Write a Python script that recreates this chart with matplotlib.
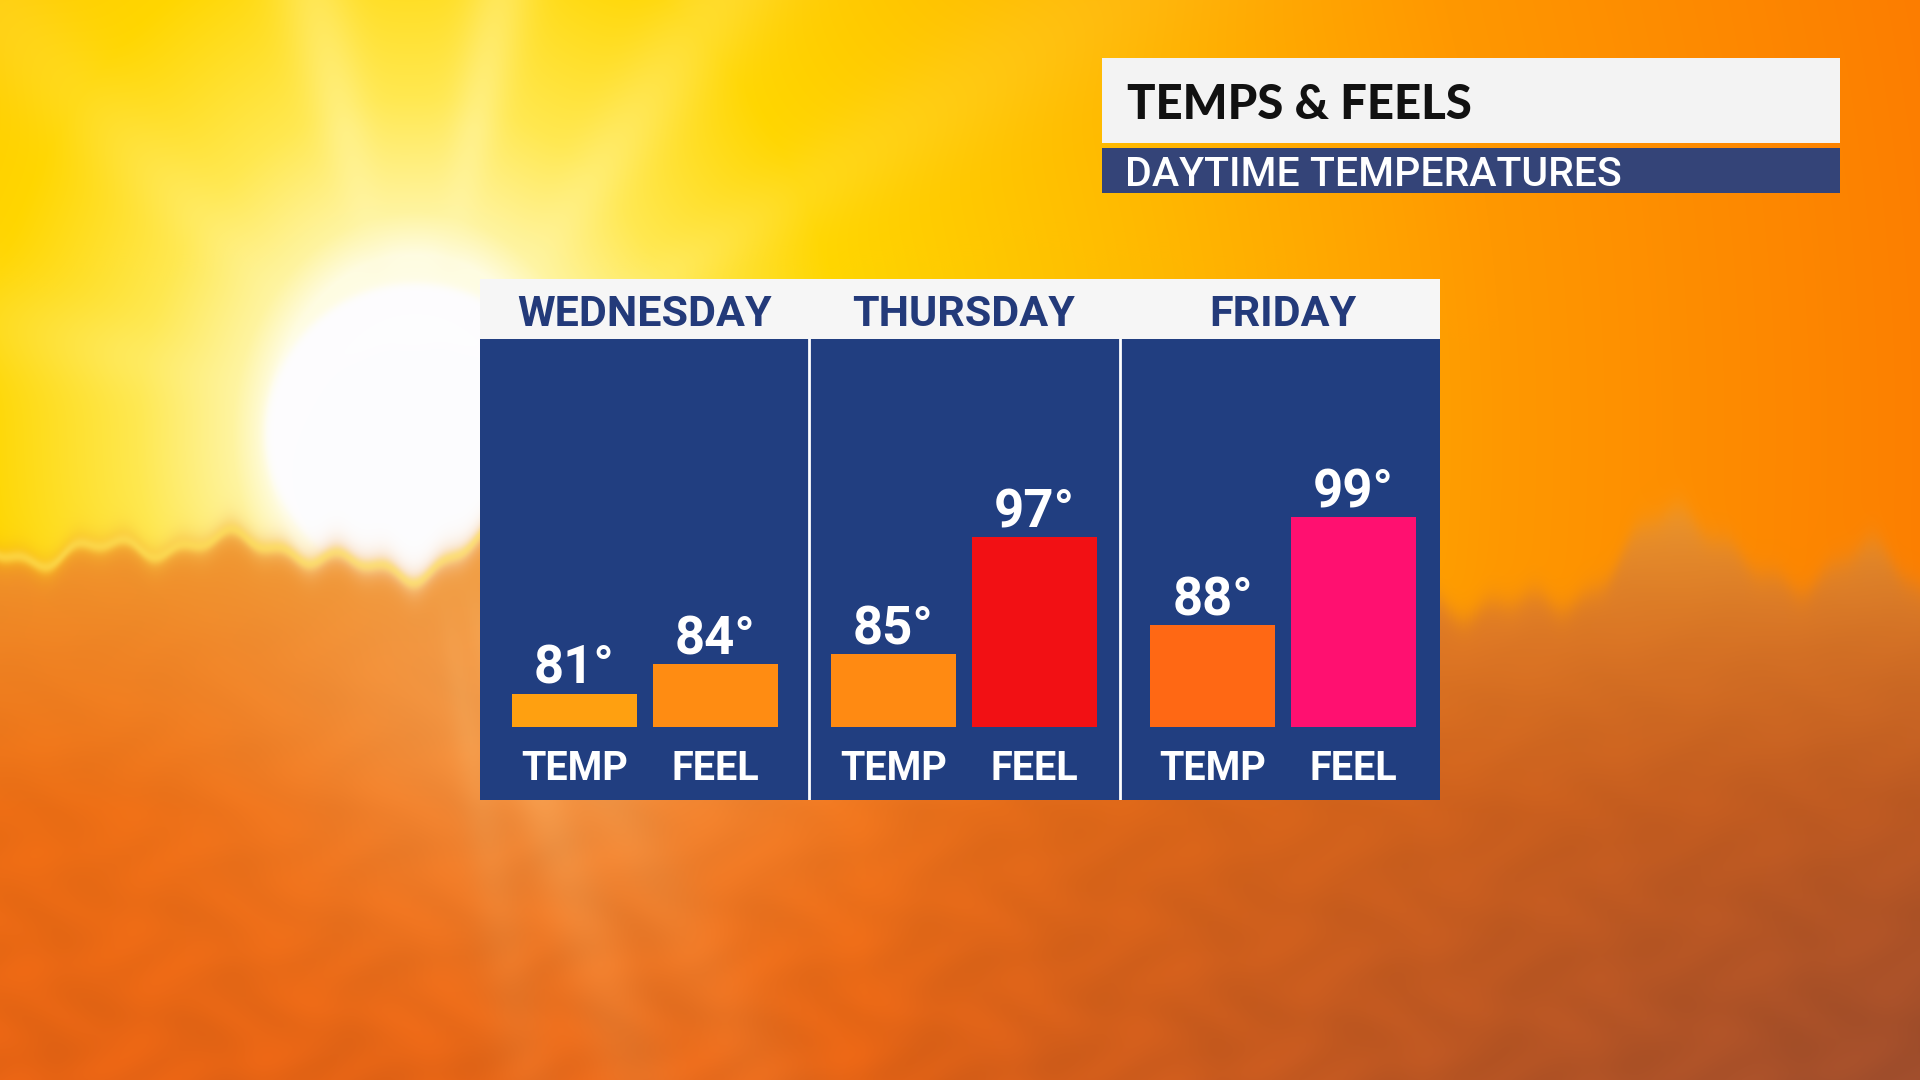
import numpy as np
import matplotlib
matplotlib.use("Agg")
import matplotlib.pyplot as plt
from matplotlib.patches import Rectangle
import matplotlib.transforms as mtransforms

# ---------------- data ----------------
days = ["WEDNESDAY", "THURSDAY", "FRIDAY"]
temps = [81, 85, 88]
feels = [84, 97, 99]
temp_colors = ["#FFA010", "#FF8A12", "#FF6814"]
feel_colors = ["#FF8C12", "#F21014", "#FF1070"]
series_labels = ["TEMP", "FEEL"]
title = "TEMPS & FEELS"
subtitle = "DAYTIME TEMPERATURES"

# ---------------- styling ----------------
W, H = 1920, 1080
FONT = ["Roboto", "DejaVu Sans"]
PANEL_BLUE = "#213E80"
HEADER_WHITE = "#F6F6F6"
DAY_COLOR = "#233A7A"
BAR_FLOOR = 77.6

plt.rcParams["font.family"] = FONT


def lerp_stops(t, stops):
    pos = np.array([s[0] for s in stops], float)
    cols = np.array([s[1] for s in stops], float)
    out = np.empty(t.shape + (3,))
    for c in range(3):
        out[..., c] = np.interp(t, pos, cols[:, c])
    return out


# ---------------- background (decorative sunny sky) ----------------
yy, xx = np.mgrid[0:H, 0:W].astype(float)
sx, sy, sr = 415.0, 433.0, 150.0
dx, dy = xx - sx, yy - sy
d = np.hypot(dx, dy)
d_eff = np.hypot(dx * 1.15, dy * 0.95)
sky = lerp_stops(d_eff, [(0, (255, 255, 252)), (sr + 20, (255, 252, 225)), (sr + 60, (255, 244, 160)),
                         (320, (255, 232, 80)), (500, (255, 214, 0)), (850, (255, 186, 0)),
                         (1250, (255, 152, 0)), (1800, (252, 124, 0))])
theta = np.degrees(np.arctan2(dx, -dy))
rays = np.zeros_like(d)
for a, w, s in [(-75, 7, 0.35), (-45, 6, 0.35), (-13, 5, 0.8), (11, 4.5, 0.85), (35, 6, 0.6),
                (58, 5, 0.3), (152, 4, 0.35), (161, 4, 0.55), (170, 3, 0.35)]:
    diff = (theta - a + 180) % 360 - 180
    rays += s * np.exp(-(diff / w) ** 2)
near = np.clip((d - sr) / 160.0, 0, 1)
rays *= np.exp(-np.maximum(d - sr, 0) / 700) * near
rays = np.clip(rays, 0, 1)[..., None]
ray_col = np.array([255, 248, 185], float)
sky = sky + (ray_col - sky) * rays * 0.65
# crisp sun disk
disk = 1 / (1 + np.exp((d - sr) / 2.5))
sky = sky + (np.array([253, 253, 255], float) - sky) * disk[..., None]

u, v = xx / W, yy / H
cloud = lerp_stops(v, [(0.45, (250, 165, 50)), (0.6, (248, 135, 35)), (0.75, (243, 112, 20)),
                       (1.0, (232, 100, 20))])
dark = (np.clip((u - 0.45) / 0.55, 0, 1) * np.clip((v - 0.45) / 0.55, 0, 1)) ** 0.8
cloud = cloud + (np.array([160, 78, 45], float) - cloud) * dark[..., None]
glow = np.exp(-((xx - 560) / 280) ** 2 - ((yy - 680) / 230) ** 2)
cloud = cloud + (np.array([255, 190, 120], float) - cloud) * 0.5 * glow[..., None]
cloud = cloud + (ray_col - cloud) * rays * 0.35
mottle = (np.sin(xx / 23 + np.sin(yy / 17)) * np.sin(yy / 19 + np.cos(xx / 31))) * 0.5 + 0.5
cloud = cloud * (0.96 + 0.06 * mottle[..., None] * np.clip((v - 0.5) * 2, 0, 1)[..., None])

hz = (540 + 9 * np.sin(xx / 21.0) + 5 * np.sin(xx / 8.3 + 2) + 12 * np.sin(xx / 97.0 + 0.5)
      + 6 * np.sin(xx / 47.0 + 1.3))
hz = hz + 48 * np.exp(-((xx - 400) / 75.0) ** 2)
hz_right = (605 - 95 * np.exp(-((xx - 1680) / 70.0) ** 2) - 55 * np.exp(-((xx - 1860) / 55.0) ** 2)
            + 8 * np.sin(xx / 19.0) + 5 * np.sin(xx / 7.7))
wr = np.clip((xx - 1250) / 200, 0, 1)
hz = hz * (1 - wr) + hz_right * wr
m = 1 / (1 + np.exp(-(yy - hz) / 8.0))
m = m[..., None]
img = sky * (1 - m) + cloud * m
rim = np.exp(-((yy - hz) / 6.0) ** 2) * np.clip((950 - xx) / 400, 0, 1)
img = img + (np.array([255, 232, 90], float) - img) * 0.55 * rim[..., None]
img = np.clip(img, 0, 255) / 255.0

# ---------------- figure ----------------
fig = plt.figure(figsize=(19.2, 10.8), dpi=100)
ax_bg = fig.add_axes([0, 0, 1, 1])
ax_bg.imshow(img, extent=[0, W, H, 0], aspect="auto", interpolation="bilinear")
ax_bg.set_xlim(0, W)
ax_bg.set_ylim(H, 0)
ax_bg.axis("off")


def fx(px):
    return px / W


def fy(py):
    return 1 - py / H


# title block
fig.patches.append(Rectangle((fx(1102), fy(143)), fx(738), 85 / H, transform=fig.transFigure,
                             facecolor="#F3F3F3", edgecolor="none", zorder=2))
fig.patches.append(Rectangle((fx(1102), fy(193)), fx(738), 45 / H, transform=fig.transFigure,
                             facecolor="#344478", edgecolor="none", zorder=2))
fig.text(fx(1127), fy(119), title, fontsize=34, fontweight="black", color="#111111",
         family=["Lato", "Roboto", "DejaVu Sans"], ha="left", va="baseline", zorder=3)
fig.text(fx(1125), fy(186), subtitle, fontsize=29.5, fontweight="medium", color="white",
         ha="left", va="baseline", zorder=3)

# chart panel
ax = fig.add_axes([fx(480), fy(800), fx(960), 461 / H])
ax.set_facecolor(PANEL_BLUE)
ax.set_xlim(-0.517, 2.492)
ax.set_ylim(70.15, 117.2)
for s in ax.spines.values():
    s.set_visible(False)
ax.set_xticks([])
ax.set_yticks([])

x = np.arange(len(days))
off = 0.221
bw = 0.392
ax.bar(x - off, np.array(temps) - BAR_FLOOR, bottom=BAR_FLOOR, width=bw, color=temp_colors, zorder=2)
ax.bar(x + off, np.array(feels) - BAR_FLOOR, bottom=BAR_FLOOR, width=bw, color=feel_colors, zorder=2)

for xi, val in zip(x - off, temps):
    ax.annotate(f"{val}°", (xi, val), xytext=(0, 7), textcoords="offset points", ha="center",
                va="baseline", fontsize=38, fontweight="bold", color="white")
for xi, val in zip(x + off, feels):
    ax.annotate(f"{val}°", (xi, val), xytext=(0, 7), textcoords="offset points", ha="center",
                va="baseline", fontsize=38, fontweight="bold", color="white")

trans = mtransforms.blended_transform_factory(ax.transData, ax.transAxes)
for xi in x:
    ax.text(xi - off, 0.0434, series_labels[0], transform=trans, ha="center", va="baseline",
            fontsize=28.5, fontweight="bold", color="white")
    ax.text(xi + off, 0.0434, series_labels[1], transform=trans, ha="center", va="baseline",
            fontsize=28.5, fontweight="bold", color="white")

for xv in [0.514, 1.489]:
    ax.axvline(xv, color="white", lw=2, zorder=3)

# header strip with day names
ax.add_patch(Rectangle((0, 1.0), 1, 60 / 461, transform=ax.transAxes, facecolor=HEADER_WHITE,
                       edgecolor="none", clip_on=False, zorder=3))
for xi, day in zip(x, days):
    ax.text(xi, 1.028, day, transform=trans, ha="center", va="baseline", fontsize=31,
            fontweight="bold", color=DAY_COLOR, clip_on=False, zorder=4)

fig.savefig("out.png", dpi=100)
